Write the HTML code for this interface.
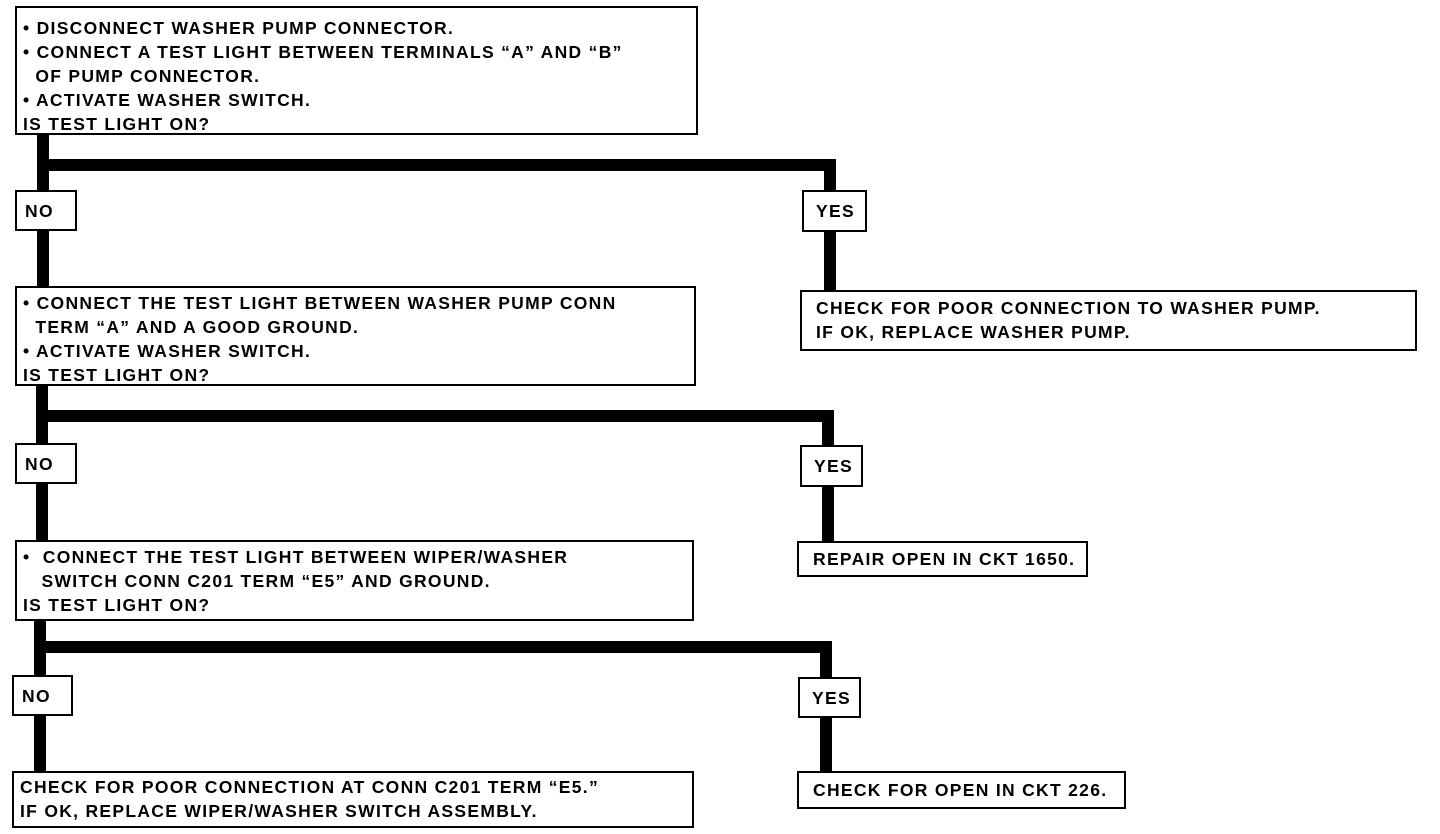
<!DOCTYPE html>
<html><head><meta charset="utf-8"><style>
body{margin:0;width:1440px;height:834px;background:#fff;position:relative;overflow:hidden;font-family:"Liberation Sans",Arial,sans-serif;font-weight:bold;color:#000}
.b{position:absolute;border:2px solid #000;background:#fff;box-sizing:border-box;font-size:17.5px;line-height:24px;padding:4px 6px;white-space:pre;letter-spacing:1.3px}
.l{position:absolute;background:#000}
.s{padding:0 0 0 8px;display:flex;align-items:center}
</style></head><body>
<div class="l" style="left:37px;top:130px;width:12px;height:160px"></div>
<div class="l" style="left:37px;top:159px;width:798px;height:12px"></div>
<div class="l" style="left:824px;top:159px;width:12px;height:134px"></div>
<div class="l" style="left:36px;top:383px;width:12px;height:160px"></div>
<div class="l" style="left:36px;top:410px;width:798px;height:12px"></div>
<div class="l" style="left:822px;top:410px;width:12px;height:134px"></div>
<div class="l" style="left:34px;top:618px;width:12px;height:156px"></div>
<div class="l" style="left:34px;top:641px;width:797px;height:12px"></div>
<div class="l" style="left:820px;top:641px;width:12px;height:132px"></div>

<div class="b" style="left:15px;top:6px;width:683px;height:129px;padding-top:8px">• DISCONNECT WASHER PUMP CONNECTOR.
• CONNECT A TEST LIGHT BETWEEN TERMINALS “A” AND “B”
  OF PUMP CONNECTOR.
• ACTIVATE WASHER SWITCH.
IS TEST LIGHT ON?</div>
<div class="b s" style="left:15px;top:190px;width:62px;height:41px">NO</div>
<div class="b s" style="left:802px;top:190px;width:65px;height:42px;padding-left:12px">YES</div>

<div class="b" style="left:15px;top:286px;width:681px;height:100px;padding-top:3px">• CONNECT THE TEST LIGHT BETWEEN WASHER PUMP CONN
  TERM “A” AND A GOOD GROUND.
• ACTIVATE WASHER SWITCH.
IS TEST LIGHT ON?</div>
<div class="b" style="left:800px;top:290px;width:617px;height:61px;padding:4px 14px">CHECK FOR POOR CONNECTION TO WASHER PUMP.
IF OK, REPLACE WASHER PUMP.</div>
<div class="b s" style="left:15px;top:443px;width:62px;height:41px">NO</div>
<div class="b s" style="left:800px;top:445px;width:63px;height:42px;padding-left:12px">YES</div>

<div class="b" style="left:15px;top:540px;width:679px;height:81px;padding-top:3px">•  CONNECT THE TEST LIGHT BETWEEN WIPER/WASHER
   SWITCH CONN C201 TERM “E5” AND GROUND.
IS TEST LIGHT ON?</div>
<div class="b" style="left:797px;top:541px;width:291px;height:36px;padding:4px 14px">REPAIR OPEN IN CKT 1650.</div>
<div class="b s" style="left:12px;top:675px;width:61px;height:41px">NO</div>
<div class="b s" style="left:798px;top:677px;width:63px;height:41px;padding-left:12px">YES</div>

<div class="b" style="left:12px;top:771px;width:682px;height:57px;padding:2px 6px">CHECK FOR POOR CONNECTION AT CONN C201 TERM “E5.”
IF OK, REPLACE WIPER/WASHER SWITCH ASSEMBLY.</div>
<div class="b" style="left:797px;top:771px;width:329px;height:38px;padding:5px 14px">CHECK FOR OPEN IN CKT 226.</div>
</body></html>
